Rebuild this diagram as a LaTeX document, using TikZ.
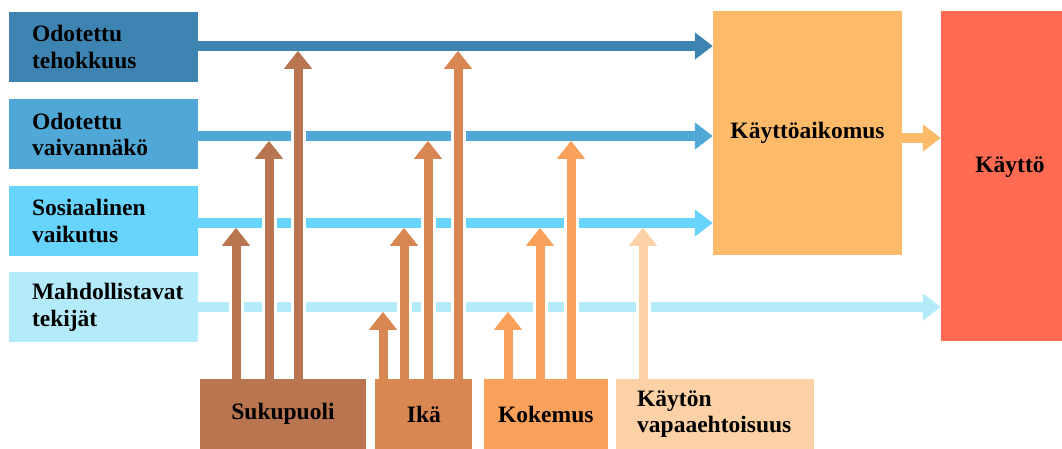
\documentclass[tikz,border=0pt]{standalone}
\usepackage{fontspec}
\setmainfont{Liberation Serif}
\usepackage{tikz}
\usetikzlibrary{positioning,arrows.meta}

\definecolor{tehoblue}{HTML}{3E84B3}
\definecolor{vaivblue}{HTML}{4FA8D5}
\definecolor{sosblue}{HTML}{66D4FC}
\definecolor{mahdblue}{HTML}{B4EBFA}
\definecolor{sukbrown}{HTML}{B97450}
\definecolor{ikaorange}{HTML}{D98752}
\definecolor{kokorange}{HTML}{F9A05A}
\definecolor{vappeach}{HTML}{FCD1A5}
\definecolor{aikorange}{HTML}{FDBA69}
\definecolor{usered}{HTML}{FF6B52}

% one rising arrow with a white gap around its shaft
\newcommand{\riser}[4]{%
  \draw[gapline] (#2,0 |- #3.north) -- ([yshift=-22.75pt]#2,0 |- #4);
  \draw[riserline=#1] (#2,0 |- #3.north) -- ([yshift=-4.75pt]#2,0 |- #4);}

\begin{document}
\begin{tikzpicture}[x=1pt,y=-1pt,
                every node/.append style = {font=\fontsize{23.5}{26.5}\selectfont\bfseries},
                factor/.style = {fill=#1, text width=143pt, inner xsep=23pt, inner ysep=0pt, minimum height=70pt, align=left},
                moderator/.style = {fill=#1, minimum height=70pt, inner sep=0pt},
                flow/.style = {draw=#1, line width=9.5pt, -{Triangle[length=18pt,width=26pt]}},
                gapline/.style = {draw=white, line width=15pt},
                riserline/.style = {draw=#1, line width=9pt, -{Triangle[length=18pt,width=27pt]}}]
            \useasboundingbox (0,0) rectangle (1062,448);
            % determinants
            \node[factor=tehoblue] (te) at (103.5,47) {Odotettu\\tehokkuus};
            \node[factor=vaivblue, below=17pt of te] (vv) {Odotettu\\vaivannäkö};
            \node[factor=sosblue, below=16pt of vv] (sv) {Sosiaalinen\\vaikutus};
            \node[factor=mahdblue, below=16pt of sv] (mt) {Mahdollistavat\\tekijät};
            % intention and use
            \node[fill=aikorange, minimum width=189pt, minimum height=244pt] (ka) at (807.5,133) {Käyttöaikomus};
            \node[fill=usered, minimum width=138pt, minimum height=330pt] (use) at (1010,176) {};
            \node (usetext) at ([yshift=9pt]use.center) {Käyttö};
            % moderators
            \node[moderator=sukbrown, minimum width=166pt] (suk) at (283,414) {Sukupuoli};
            \node[moderator=ikaorange, minimum width=97pt, right=9pt of suk] (ika) {Ikä};
            \node[moderator=kokorange, minimum width=124pt, right=11pt of ika] (kok) {Kokemus};
            \node[factor=vappeach, text width=156pt, inner xsep=21pt, right=8pt of kok] (vap) {Käytön\\vapaaehtoisuus};
            % rows of the main arrows
            \coordinate (l1) at (0,46);
            \coordinate (l2) at (0,136);
            \coordinate (l3) at (0,223);
            \coordinate (l4) at (0,307);
            \draw[flow=tehoblue] (te.east |- l1) -- (ka.west |- l1);
            \draw[flow=vaivblue] (vv.east |- l2) -- (ka.west |- l2);
            \draw[flow=sosblue] (sv.east |- l3) -- (ka.west |- l3);
            \draw[flow=mahdblue] (mt.east |- l4) -- (use.west |- l4);
            \draw[flow=aikorange] (ka.east |- 0,138) -- (use.west |- 0,138);
            % moderating arrows
            \foreach \px/\row in {236/l3, 269/l2, 298/l1}
                {\riser{sukbrown}{\px}{suk}{\row}}
            \foreach \px/\row in {383/l4, 404/l3, 428/l2, 458/l1}
                {\riser{ikaorange}{\px}{ika}{\row}}
            \foreach \px/\row in {508/l4, 540/l3, 571/l2}
                {\riser{kokorange}{\px}{kok}{\row}}
            \riser{vappeach}{643}{vap}{l3}
\end{tikzpicture}
\end{document}
